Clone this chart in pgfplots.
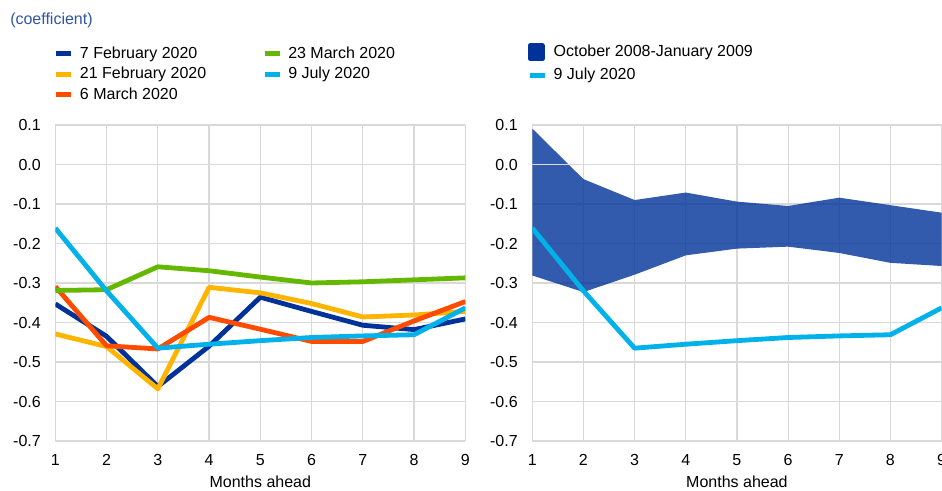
\documentclass[border=0pt]{standalone}
\usepackage{fontspec}
\setmainfont{Liberation Sans}
\usepackage{pgfplots}
\pgfplotsset{compat=1.18}

\definecolor{ecbdark}{HTML}{003299}
\definecolor{ecbyellow}{HTML}{FFB400}
\definecolor{ecborange}{HTML}{FF4B00}
\definecolor{ecbgreen}{HTML}{65B800}
\definecolor{ecblight}{HTML}{00B1EA}
\definecolor{gridgray}{HTML}{D9D9D9}
\definecolor{titleblue}{HTML}{2F55A8}

\pgfplotsset{
  ecbpanel/.style={
    scale only axis,
    width=307.5pt, height=237pt,
    xmin=1, xmax=9, ymin=-0.7, ymax=0.1,
    xtick={1,...,9},
    ytick={-0.7,-0.6,-0.5,-0.4,-0.3,-0.2,-0.1,0,0.1},
    yticklabels={-0.7,-0.6,-0.5,-0.4,-0.3,-0.2,-0.1,0.0,0.1},
    grid=major,
    grid style={gridgray, line width=0.9pt},
    axis line style={draw=none},
    major tick style={draw=none},
    font=\fontsize{12}{14.4}\selectfont,
    /pgf/number format/assume math mode=true,
    xticklabel style={anchor=base, inner sep=0pt, yshift=-18.6pt},
    yticklabel style={anchor=base east, inner sep=0pt, xshift=-10.7pt, yshift=-4.3pt},
    xlabel={Months ahead},
    xlabel style={at={(axis description cs:0.5,0)}, anchor=base, inner sep=0pt, yshift=-35pt},
    every axis plot/.append style={line width=3.6pt, line join=round},
    legend cell align=left,
    legend style={draw=none, fill=none, inner sep=0pt, anchor=north west,
      font=\fontsize{12}{14.4}\selectfont,
      nodes={inner sep=0pt, text height=9pt, text depth=2.5pt},
      /tikz/every odd column/.append style={column sep=4.5pt},
      /tikz/every even column/.append style={column sep=42pt}},
    legend image code/.code={\draw[line width=3.75pt] (0pt,0pt) -- (11.25pt,0pt);},
  }
}

\begin{document}
\begin{tikzpicture}

\node[anchor=base west, text=titleblue, inner sep=0pt, font=\fontsize{12}{14.4}\selectfont]
  at (7.5pt,350pt) {(coefficient)};

% left panel
\begin{axis}[ecbpanel, at={(41.5pt,37.5pt)}, anchor=south west,
    legend columns=2,
    legend style={at={(axis description cs:-0.004,1.25)}, row sep=3.9pt}]
  \addlegendimage{ecbdark}\addlegendentry{7 February 2020}
  \addlegendimage{ecbgreen}\addlegendentry{23 March 2020}
  \addlegendimage{ecbyellow}\addlegendentry{21 February 2020}
  \addlegendimage{ecblight}\addlegendentry{9 July 2020}
  \addlegendimage{ecborange}\addlegendentry{6 March 2020}

  \addplot[ecbdark, forget plot] coordinates {
    (1,-0.353) (2,-0.435) (3,-0.562) (4,-0.460) (5,-0.336)
    (6,-0.372) (7,-0.407) (8,-0.418) (9,-0.391)};
  \addplot[ecbyellow, forget plot] coordinates {
    (1,-0.429) (2,-0.461) (3,-0.568) (4,-0.311) (5,-0.325)
    (6,-0.352) (7,-0.386) (8,-0.381) (9,-0.372)};
  \addplot[ecborange, forget plot] coordinates {
    (1,-0.309) (2,-0.459) (3,-0.467) (4,-0.387) (5,-0.417)
    (6,-0.448) (7,-0.448) (8,-0.396) (9,-0.347)};
  \addplot[ecbgreen, forget plot] coordinates {
    (1,-0.319) (2,-0.317) (3,-0.259) (4,-0.269) (5,-0.285)
    (6,-0.300) (7,-0.297) (8,-0.292) (9,-0.287)};
  \addplot[ecblight, forget plot] coordinates {
    (1,-0.161) (2,-0.320) (3,-0.465) (4,-0.455) (5,-0.446)
    (6,-0.438) (7,-0.434) (8,-0.431) (9,-0.363)};
\end{axis}

% right panel
\begin{axis}[ecbpanel, at={(399.2pt,37.5pt)}, anchor=south west, width=307pt,
    legend columns=1,
    legend style={at={(axis description cs:-0.012,1.26)}, row sep=5pt}]
  \addlegendimage{legend image code/.code={\fill[ecbdark] (0pt,-5pt) rectangle (9pt,5pt);}}
  \addlegendentry{October 2008-January 2009}
  \addlegendimage{ecblight}\addlegendentry{9 July 2020}

  % band: upper bound left to right, lower bound right to left
  \addplot[fill=ecbdark, fill opacity=0.8, draw=none, line width=0pt, forget plot] coordinates {
    (1,0.091) (2,-0.037) (3,-0.090) (4,-0.071) (5,-0.094)
    (6,-0.105) (7,-0.084) (8,-0.103) (9,-0.122)
    (9,-0.257) (8,-0.249) (7,-0.224) (6,-0.208) (5,-0.213)
    (4,-0.230) (3,-0.279) (2,-0.323) (1,-0.281)} -- cycle;
  \addplot[gridgray, line width=0.9pt, forget plot] coordinates {(1,0) (9,0)};
  \addplot[ecblight, forget plot] coordinates {
    (1,-0.161) (2,-0.320) (3,-0.465) (4,-0.455) (5,-0.446)
    (6,-0.438) (7,-0.434) (8,-0.431) (9,-0.363)};
\end{axis}

\pgfresetboundingbox
\path[use as bounding box] (0pt,0pt) rectangle (706.5pt,368.25pt);
\end{tikzpicture}
\end{document}
